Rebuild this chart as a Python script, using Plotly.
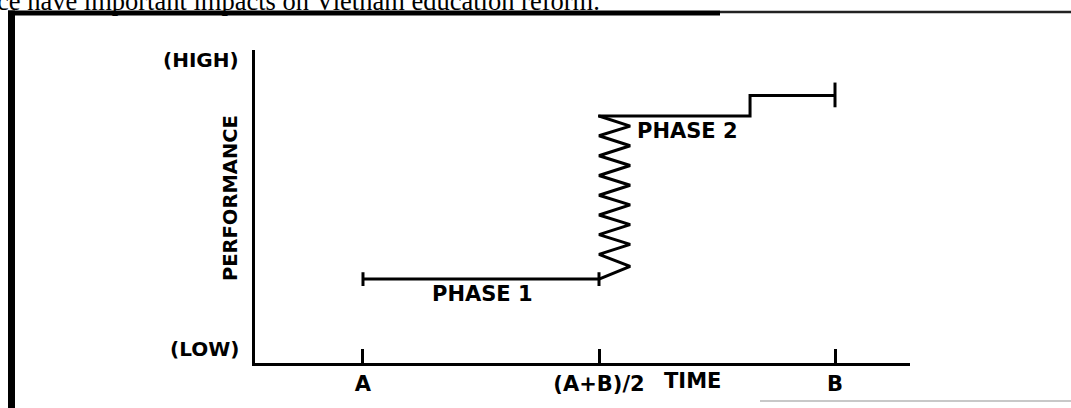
"""
Performance over time: phase 1 plateau, zigzag transition, phase 2 plateau
"""
import plotly.graph_objects as go

W, H = 1071, 408
L, R, T, B = 255, 910, 50, 367  # plot area in pixels

# time axis: A = 0, (A+B)/2 = 0.5, B = 1
time_ticks = [0, 0.5, 1]
time_labels = ['A', '(A+B)/2', 'B']

# performance: 0 = axis bottom, 1 = axis top
perf_ticks = [0.044, 0.968]
perf_labels = ['(LOW)', '(HIGH)']

# phase 1 plateau
phase1_t = [0, 0.5]
phase1_p = [0.268, 0.268]

# zigzag climb from the end of phase 1 up to phase 2
zigzag_t = [0.5, 0.566, 0.5, 0.566, 0.5, 0.566, 0.5, 0.566, 0.5,
            0.566, 0.5, 0.566, 0.5, 0.566, 0.5, 0.566, 0.5]
zigzag_p = [0.268, 0.309, 0.347, 0.379, 0.410, 0.442, 0.473, 0.505, 0.536,
            0.568, 0.599, 0.631, 0.662, 0.694, 0.726, 0.757, 0.789]

# phase 2 plateau with a step up before B
phase2_t = [0.498, 0.820, 0.820, 1.0]
phase2_p = [0.789, 0.789, 0.855, 0.855]

# end caps (t, low, high)
caps = [(0, 0.246, 0.290), (0.5, 0.246, 0.290), (1.0, 0.817, 0.896)]

black = '#000000'
lab_font = dict(family='DejaVu Sans', size=21, color=black, weight='bold')

fig = go.Figure()

for tt, pp in [(phase1_t, phase1_p), (zigzag_t, zigzag_p), (phase2_t, phase2_p)]:
    fig.add_trace(go.Scatter(x=tt, y=pp, mode='lines',
                             line=dict(color=black, width=3),
                             hoverinfo='skip', showlegend=False))

cap_x, cap_y = [], []
for t, lo, hi in caps:
    cap_x += [t, t, None]
    cap_y += [lo, hi, None]
fig.add_trace(go.Scatter(x=cap_x, y=cap_y, mode='lines',
                         line=dict(color=black, width=3),
                         hoverinfo='skip', showlegend=False))


# paper coords are relative to the plot area
def px(x):
    return (x - L) / (R - L)


def py(y):
    return (B - y) / (B - T)


# page frame (scanned border)
fig.add_shape(type='line', xref='paper', yref='paper',
              x0=px(11.5), x1=px(11.5), y0=py(10), y1=py(420),
              line=dict(color=black, width=7))
fig.add_shape(type='line', xref='paper', yref='paper',
              x0=px(8), x1=px(720), y0=py(12.5), y1=py(12.5),
              line=dict(color=black, width=5))
fig.add_shape(type='line', xref='paper', yref='paper',
              x0=px(720), x1=px(1080), y0=py(11.5), y1=py(11.5),
              line=dict(color='#222222', width=2.5))
fig.add_shape(type='line', xref='paper', yref='paper',
              x0=px(760), x1=px(1080), y0=py(405.5), y1=py(405.5),
              line=dict(color='#c8c8c8', width=2))

# cut-off sentence above the figure
fig.add_annotation(text='ce have important impacts on Vietnam education reform.',
                   xref='paper', yref='paper', x=px(-5), y=py(0),
                   xanchor='left', yanchor='middle', showarrow=False,
                   font=dict(family='Liberation Serif', size=26.5, color=black))

# performance labels
for p, lab in zip(perf_ticks, perf_labels):
    fig.add_annotation(text=lab, xref='paper', yref='y', x=px(241), y=p,
                       xanchor='right', yanchor='middle', showarrow=False,
                       font=dict(lab_font, size=20))
fig.add_annotation(text='PERFORMANCE', xref='paper', yref='paper',
                   x=px(230), y=py(200), xanchor='center', yanchor='middle',
                   textangle=-90, showarrow=False, font=dict(lab_font, size=19.5))

fig.add_annotation(text='PHASE 1', xref='x', yref='y', x=0.254, y=0.22,
                   showarrow=False, font=lab_font)
fig.add_annotation(text='PHASE 2', xref='x', yref='y', x=0.688, y=0.742,
                   showarrow=False, font=lab_font)
fig.add_annotation(text='TIME', xref='x', yref='paper', x=0.699, y=py(385),
                   showarrow=False, font=lab_font, yanchor='middle')

fig.update_layout(
    width=W, height=H,
    margin=dict(l=L, r=W - R, t=T, b=H - B),
    paper_bgcolor='white', plot_bgcolor='white',
    xaxis=dict(range=[-0.2288, 1.1589], showgrid=False, zeroline=False,
               showline=True, linewidth=3, linecolor=black,
               ticks='inside', ticklen=14, tickwidth=3, tickcolor=black,
               tickvals=time_ticks, ticktext=time_labels, tickfont=lab_font),
    yaxis=dict(range=[0, 1], showgrid=False, zeroline=False,
               showline=True, linewidth=3, linecolor=black,
               ticks='', showticklabels=False),
)

fig.write_html('out.html', config={'displayModeBar': False},
               post_script="document.body.style.margin='0';")
